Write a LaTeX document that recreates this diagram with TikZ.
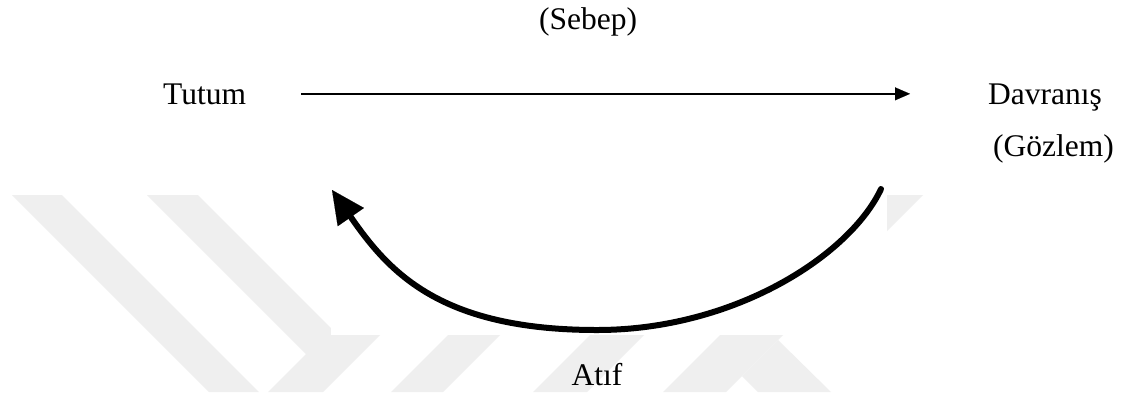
\documentclass[tikz,border=0pt]{standalone}
\usepackage{fontspec}
\setmainfont{Liberation Serif}
\usetikzlibrary{arrows.meta}
\definecolor{wm}{HTML}{EFEFEF}
\begin{document}
\begin{tikzpicture}[x=1pt,y=-1pt,
  lbl/.style={font=\fontsize{31.5}{38}\selectfont, inner sep=0pt, anchor=base west},
  wmark/.style={fill=wm, draw=none},
  harrow/.style={line width=2pt, -{Triangle[length=15pt,width=13pt,line width=0.1pt]}},
  carrow/.style={line width=6pt, line cap=round, -{Triangle[length=33pt,width=32pt,line width=0.1pt]}}]
\useasboundingbox (0,0) rectangle (1127,392);
\fill[white] (0,0) rectangle (1127,392);
% faint watermark bands
\fill[wmark] (12,195) -- (62,195) -- (259,392) -- (209,392) -- cycle;
\fill[wmark] (147,195) -- (198,195) -- (357,354) -- (306,354) -- cycle;
\fill[wmark] (340,320) -- (395,320) -- (323,392) -- (268,392) -- cycle;
\fill[wmark] (453,330) -- (505,330) -- (443,392) -- (391,392) -- cycle;
\fill[wmark] (595,330) -- (649,330) -- (587,392) -- (533,392) -- cycle;
\fill[wmark] (860,195) -- (923,195) -- (726,392) -- (663,392) -- cycle;
\fill[wmark] (742,376) -- (778,340) -- (831,392) -- (758,392) -- cycle;
\fill[white] (331,150) rectangle (887,335);
% labels
\node[lbl] (sebep) at (539,29) {(Sebep)};
\node[lbl] (tutum) at (163,104) {Tutum};
\node[lbl] (dav) at (988,104) {Davranış};
\node[lbl] (goz) at (993,156) {(Gözlem)};
\node[lbl, anchor=base] (atif) at (597,385) {Atıf};
% connectors
\draw[harrow, shorten <=55pt, shorten >=78pt] (tutum.east) -- (tutum.east -| dav.west);
\coordinate (a1) at (881,189);
\coordinate (a2) at (332,190);
\draw[carrow] (a1) .. controls (850,255) and (735,330) .. (597,330)
  .. controls (440,330) and (389,272) .. (a2);
\end{tikzpicture}
\end{document}
